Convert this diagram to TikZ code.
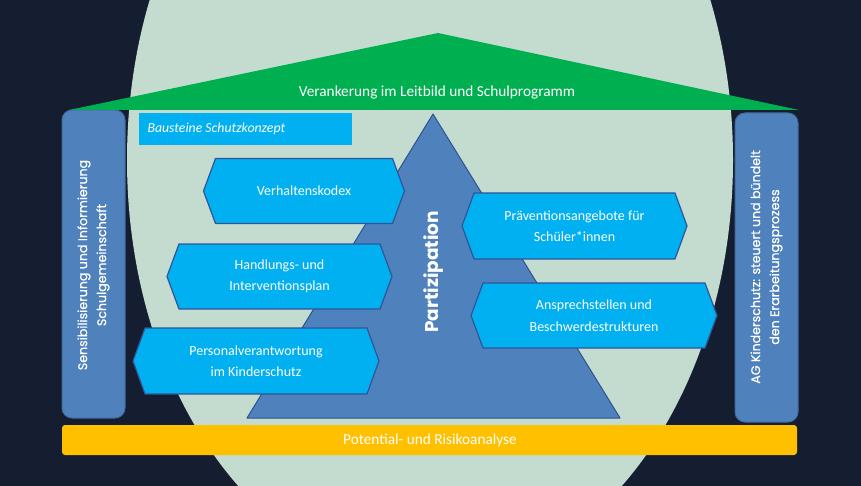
\documentclass[tikz,border=0pt]{standalone}
\usepackage{fontspec}
\setmainfont{Carlito}
\newfontfamily\mont[FakeBold=0.6]{Poppins}
\newfontfamily\montb{Poppins}
\definecolor{bgc}{HTML}{151D30}
\definecolor{ellc}{HTML}{C4DCD0}
\definecolor{roofc}{HTML}{00B050}
\definecolor{barc}{HTML}{4F81BD}
\definecolor{barb}{HTML}{3F6A9C}
\definecolor{trib}{HTML}{2F528F}
\definecolor{lbc}{HTML}{00B0F0}
\definecolor{hexb}{HTML}{2F5597}
\definecolor{yelc}{HTML}{FFC000}
\tikzset{
  barbox/.style={fill=barc, draw=barb, line width=1pt, rounded corners=10pt},
  hexfill/.style={fill=lbc, draw=hexb, line width=1.2pt, line join=round},
  hextext/.style={text=white, align=center, font=\fontsize{14}{21.5}\selectfont},
  vtext/.style={text=white, align=center, rotate=90, font=\mont\fontsize{12.6}{19}\selectfont},
  roottext/.style={text=white, font=\fontsize{15.3}{18}\selectfont}
}
\newcommand\hexa[6]{%
  \draw[hexfill] (#2-#4,#3) -- (#2-#4+12,#3-#5) -- (#2+#4-12,#3-#5) -- (#2+#4,#3)
    -- (#2+#4-12,#3+#5) -- (#2-#4+12,#3+#5) -- cycle;
  \node[hextext] (#1) at (#2,#3) {#6};}
\begin{document}
\begin{tikzpicture}[x=1pt,y=-1pt]
\useasboundingbox (0,0) rectangle (861,486);
\fill[bgc] (0,0) rectangle (861,486);
\begin{scope}
  \clip (0,0) rectangle (861,486);
  \fill[ellc] (430,160) ellipse [x radius=303pt, y radius=421pt];
\end{scope}
% side bars
\draw[barbox] (62,110) rectangle (125,418);
\node[vtext] (sens) at (93.5,265) {Sensibilisierung und Informierung\\Schulgemeinschaft};
\draw[barbox] (735,113) rectangle (798,422);
\node[vtext] (ag) at (766.5,267) {AG Kinderschutz: steuert und bündelt\\den Erarbeitungsprozess};
% roof
\fill[roofc] (69,110) -- (438,33) -- (799,110) -- cycle;
\node[roottext] (roof) at (437,93) {Verankerung im Leitbild und Schulprogramm};
% triangle
\draw[fill=barc, draw=trib, line width=1pt, line join=round] (247,418) -- (433,114) -- (620,418) -- cycle;
\node[text=white, rotate=90, font=\montb\bfseries\fontsize{18.5}{20}\selectfont] (part) at (434,272) {Partizipation};
% Bausteine box
\fill[lbc] (139,113) rectangle (352,145);
\node[text=white, anchor=west, font=\itshape\fontsize{13.8}{16}\selectfont] (baus) at (144,129) {Bausteine Schutzkonzept};
% hexagons
\hexa{verh}{304}{191}{100.5}{32.5}{Verhaltenskodex}
\hexa{handl}{279.5}{276.5}{112.5}{32.5}{Handlungs- und\\Interventionsplan}
\hexa{pers}{256}{361}{123}{33}{Personalverantwortung\\im Kinderschutz}
\hexa{praev}{574.5}{226}{112.5}{33}{Präventionsangebote für\\Schüler*innen}
\hexa{ansp}{594}{315.5}{123}{32.5}{Ansprechstellen und\\Beschwerdestrukturen}
% bottom bar
\fill[yelc, rounded corners=3pt] (62,425) rectangle (797,455);
\node[roottext] (pot) at (430,440) {Potential- und Risikoanalyse};
\end{tikzpicture}
\end{document}
